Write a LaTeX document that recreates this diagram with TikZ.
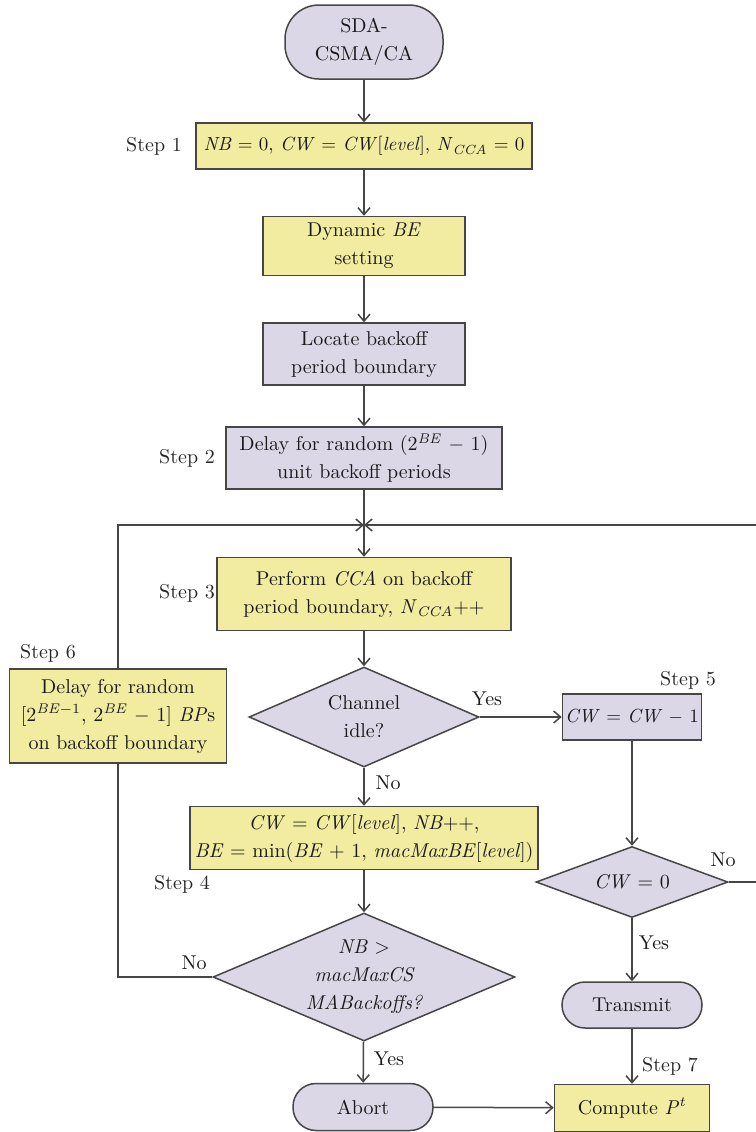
\documentclass[tikz,border=0pt]{standalone}
\usetikzlibrary{arrows.meta, shapes.geometric, positioning}

\definecolor{boxyellow}{RGB}{242,236,160}
\definecolor{boxgray}{RGB}{219,215,230}
\definecolor{linegray}{RGB}{70,70,70}

\newcommand{\vi}[1]{\textit{#1}}

\tikzset{
    proc/.style={draw=linegray, line width=0.75pt, fill=boxyellow, align=center, inner sep=1pt},
    procgray/.style={proc, fill=boxgray},
    term/.style={proc, fill=boxgray},
    decide/.style={diamond, draw=linegray, line width=0.75pt, fill=boxgray, align=center, inner sep=0pt},
    steplabel/.style={text=black!85},
    tight/.style={font=\fontsize{9.5}{14}\selectfont, inner sep=0.5pt},
}

\begin{document}
\begin{tikzpicture}[x=0.5pt, y=-0.5pt, >={Straight Barb[length=3.5pt,width=6pt]},
    font=\fontsize{10}{14}\selectfont, text=black!90]
    % Moldura (coordenadas em pixels da figura)
    \clip (0,0) rectangle (756,1132);

    % Coluna central
    \node[term, rounded corners=17pt, minimum width=79pt, minimum height=37pt] (start) at (364,42) {SDA-\\CSMA/CA};
    \node[proc, tight, minimum width=168pt, minimum height=23pt] (init) at (364,146)
        {\vi{NB} = 0, \vi{CW} = \vi{CW}[\vi{level}], \vi{N}\textsubscript{\vi{CCA}} = 0};
    \node[proc, minimum width=101pt, minimum height=29.5pt] (dynbe) at (364,246) {Dynamic \vi{BE}\\setting};
    \node[procgray, minimum width=101pt, minimum height=31pt] (locate) at (364,354) {Locate backoff\\period boundary};
    \node[procgray, minimum width=138pt, minimum height=31pt] (delay) at (364,458)
        {Delay for random (2\textsuperscript{\vi{BE}} $-$ 1)\\unit backoff periods};

    % Ponto de junção dos laços
    \coordinate (merge) at (364,525);

    \node[proc, minimum width=147pt, minimum height=36.5pt] (cca) at (364,594)
        {Perform \vi{CCA} on backoff\\period boundary, \vi{N}\textsubscript{\vi{CCA}}++};
    \node[decide, aspect=2.3, minimum width=115pt, minimum height=50pt] (idle) at (364,717) {Channel\\idle?};
    \node[proc, minimum width=174pt, minimum height=31.5pt] (update) at (364,838)
        {\vi{CW} = \vi{CW}[\vi{level}], \vi{NB}++,\\
         \vi{BE} = min(\vi{BE} + 1, \vi{macMaxBE}[\vi{level}])};
    \node[decide, aspect=2.36, minimum width=151pt, minimum height=64pt] (maxnb) at (364,977)
        {\itshape NB $>$\\\itshape macMaxCS\\\itshape MABackoffs?};
    \node[term, rounded corners=11.5pt, minimum width=70pt, minimum height=23.5pt] (abort) at (363,1107) {Abort};

    % Coluna esquerda
    \node[proc, minimum width=108.5pt, minimum height=47pt] (retry) at (118,716)
        {Delay for random\\[0pt][2\textsuperscript{\vi{BE}$-$1}, 2\textsuperscript{\vi{BE}} $-$ 1] \vi{BP}s\\on backoff boundary};

    % Coluna direita
    \node[procgray, tight, minimum width=69.5pt, minimum height=23pt] (dec) at (632,717) {\vi{CW} = \vi{CW} $-$ 1};
    \node[decide, aspect=2.7, minimum width=96pt, minimum height=35.5pt] (cwzero) at (632,882) {\vi{CW} = 0};
    \node[term, rounded corners=11.5pt, minimum width=70pt, minimum height=23pt] (send) at (632,1005) {Transmit};
    \node[proc, minimum width=77.5pt, minimum height=23.5pt] (compute) at (632,1108) {Compute \vi{P}\textsuperscript{\vi{t}}};

    % Rótulos dos passos
    \node[steplabel] (s1) at (154,146) {Step 1};
    \node[steplabel] (s2) at (187,458) {Step 2};
    \node[steplabel] (s3) at (187,593) {Step 3};
    \node[steplabel] (s4) at (182,884) {Step 4};
    \node[steplabel] (s5) at (688,680) {Step 5};
    \node[steplabel] (s6) at (48,653) {Step 6};
    \node[steplabel] (s7) at (670,1066) {Step 7};

    % Setas
    \begin{scope}[draw=linegray, line width=0.75pt]
        \draw[->] (start) -- (init);
        \draw[->] (init) -- (dynbe);
        \draw[->] (dynbe) -- (locate);
        \draw[->] (locate) -- (delay);
        \draw[->] (delay) -- (cca);
        \draw[->] (cca) -- (idle);
        \draw[->] (idle) -- (dec);
        \draw[->] (idle) -- (update);
        \draw[->] (update) -- (maxnb);
        \draw[->] (maxnb) -- (abort);
        \draw[->] (abort) -- (compute);
        \draw[->] (dec) -- (cwzero);
        \draw[->] (cwzero) -- (send);
        \draw[->] (send) -- (compute);
        % Laços de volta
        \draw (maxnb.west) -| (retry.south);
        \draw[->] (retry.north) |- (merge);
        \draw[->] (cwzero.east) -- ++(40,0) |- (merge);
    \end{scope}

    % Sim / Não
    \node (yes1) at (487,699) {Yes};
    \node (no1) at (388,783) {No};
    \node (no2) at (194,963) {No};
    \node (yes2) at (389,1059) {Yes};
    \node (yes3) at (654,943) {Yes};
    \node (no3) at (723,860) {No};

\end{tikzpicture}
\end{document}
